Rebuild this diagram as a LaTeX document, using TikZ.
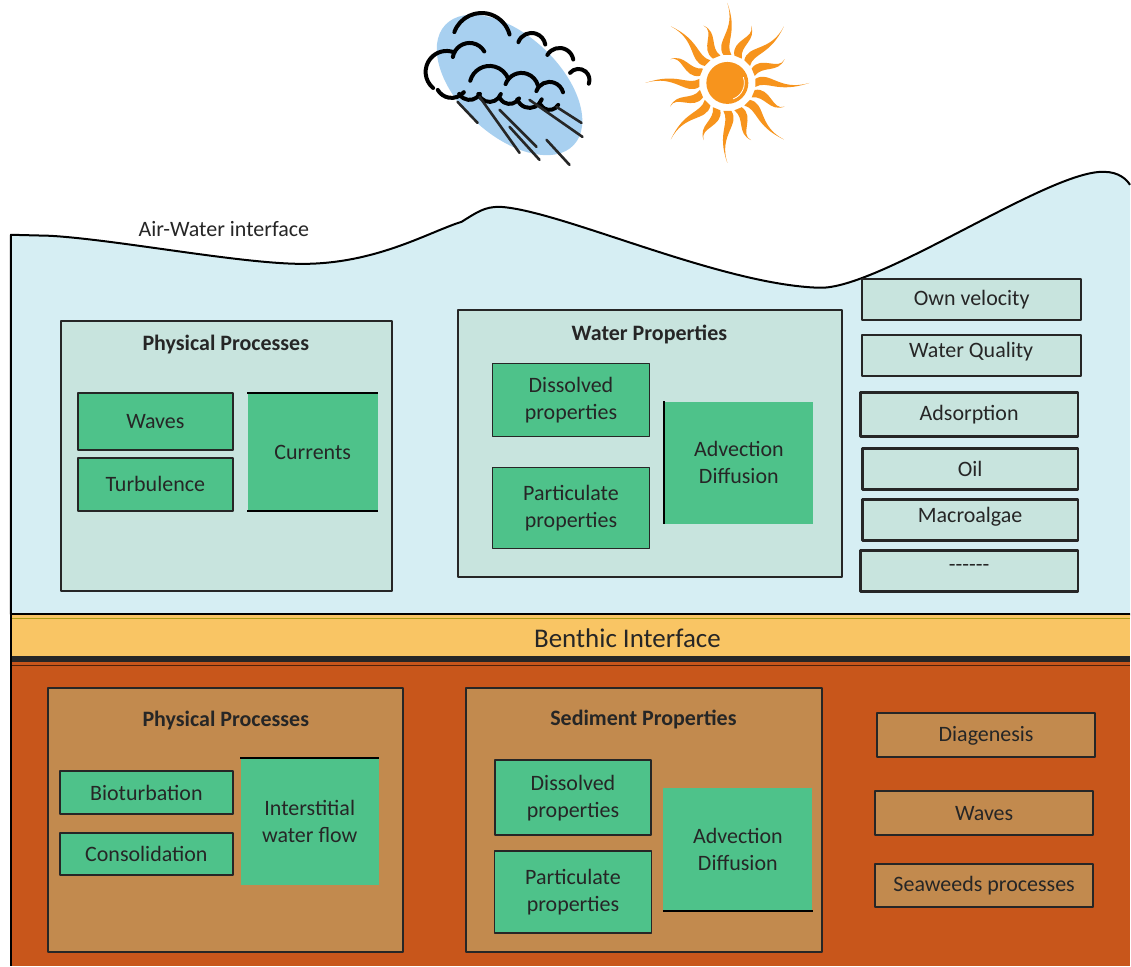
\documentclass[tikz,border=0pt]{standalone}
\usepackage{fontspec}
\setmainfont{Carlito}
\usetikzlibrary{fit}

\definecolor{seablue}{RGB}{214,238,243}
\definecolor{pale}{RGB}{200,228,222}
\definecolor{leaf}{RGB}{78,194,138}
\definecolor{sand}{RGB}{249,197,100}
\definecolor{mud}{RGB}{200,86,27}
\definecolor{clay}{RGB}{194,138,78}
\definecolor{rainblue}{RGB}{168,208,240}
\definecolor{sunorange}{RGB}{247,148,29}
\definecolor{ink}{RGB}{38,38,38}

\begin{document}
\begin{tikzpicture}[x=0.5pt,y=-0.5pt,line join=round,text=ink,
    font=\fontsize{11}{13.5}\selectfont]
  \tikzstyle{panel}=[draw=ink,line width=1pt,inner sep=0pt]
  \tikzstyle{cell}=[fill=leaf,draw=ink,line width=0.8pt,inner sep=0pt]
  \tikzstyle{bare}=[fill=leaf,inner sep=0pt]
  \tikzstyle{txt}=[label={[align=center]center:#1}]
  \tikzstyle{heading}=[font=\fontsize{11}{13.5}\selectfont\bfseries]
  \tikzstyle{rain}=[line width=1.3pt,line cap=round,ink]
  \tikzstyle{puff}=[line width=2pt,line cap=round,black]

  \fill[white] (0,0) rectangle (1131,967);

  % weather
  \fill[rainblue,rotate around={-43:(510,85)}] (510,85) ellipse (88 and 50);
  \foreach \cx/\cy/\rr/\aa/\bb in {482/42/29/200/345, 532/47/14/200/350,
      560/62/14/210/350, 579/80/11/220/380, 447/72/21/130/290,
      470/60/17/190/330, 490/86/20/195/340, 522/90/17/200/345,
      550/96/14/200/345, 452/82/16/40/150, 490/90/12/20/160, 530/95/13/20/160,
      470/88/12/30/150, 510/93/11/30/150, 550/100/10/30/150}
    \draw[puff] (\cx,\cy) ++(\aa:\rr) arc[start angle=\aa,end angle=\bb,radius=\rr];
  \foreach \xa/\ya/\xb/\yb in {458/102/478/123, 480/97/520/153, 500/110/537/147,
      510/127/540/160, 530/100/583/137, 547/140/570/165, 557/107/582/123}
    \draw[rain] (\xa,\ya) -- (\xb,\yb);
  \begin{scope}[shift={(728,83)}]
    \foreach \a/\len in {0/82,22.5/62,45/80,67.5/62,90/80,112.5/62,135/80,157.5/62,
        180/82,202.5/62,225/80,247.5/62,270/80,292.5/62,315/80,337.5/62}
      \fill[sunorange,rotate=\a] (28,-4) .. controls (42,-13) and (52,9) .. (\len,0)
        .. controls (50,11) and (40,-3) .. (28,4) -- cycle;
    \fill[sunorange] (0,0) circle (21);
    \draw[white,line width=0.4pt] (0,0) ++(-20:17) arc[start angle=-20,end angle=70,radius=17];
  \end{scope}

  % water column
  \draw[fill=seablue,line width=1pt] (1131,615) -- (11,615) -- (11,235) -- (50,236)
    .. controls (120,240) and (250,266) .. (310,264)
    .. controls (380,262) and (430,232) .. (462,222)
    .. controls (478,212) and (485,207) .. (500,207)
    .. controls (560,210) and (720,285) .. (820,288)
    .. controls (880,290) and (1050,170) .. (1105,172)
    .. controls (1120,172) and (1128,180) .. (1131,185);
  \node (air) at (224,229) {Air-Water interface};

  \node[panel,fill=pale,fit={(61,321) (392,592)}] (wphys) {};
  \node[heading] (wphyst) at (226,345) {Physical Processes};
  \node[cell,line width=1pt,fit={(78,393) (233,450)},txt=Waves] (wwaves) {};
  \node[cell,line width=1pt,fit={(78,458) (233,511)},txt=Turbulence] (turb) {};
  \node[bare,fit={(248,394) (378,511)},txt=Currents] (curr) {};
  \draw[line width=1pt] (curr.north west) -- (curr.north east)
    (curr.south west) -- (curr.south east);

  \node[panel,fill=pale,fit={(458,310) (843,578)}] (wprop) {};
  \node[heading] (wpropt) at (650,335) {Water Properties};
  \node[cell,fit={(493,364) (650,437)},txt={Dissolved\\properties}] (wdis) {};
  \node[cell,fit={(493,468) (650,549)},txt={Particulate\\properties}] (wpart) {};
  \node[bare,fit={(665,402) (814,524)},txt={Advection\\Diffusion}] (wadv) {};
  \draw[line width=1pt] (wadv.north west) -- (wadv.south west);

  \node[panel,fill=pale,fit={(863,279) (1082,320)},txt={Own velocity}] (own) {};
  \node[panel,fill=pale,fit={(863,335) (1082,376)}] (quality) {};
  \node (qualityt) at (972,352) {Water Quality};
  \node[panel,fill=pale,line width=1.3pt,fit={(861,393) (1079,437)},txt=Adsorption] (adsorp) {};
  \node[panel,fill=pale,line width=1.3pt,fit={(863,449) (1079,490)},txt=Oil] (oil) {};
  \node[panel,fill=pale,line width=1.3pt,fit={(863,500) (1079,541)}] (algae) {};
  \node (algaet) at (971,517) {Macroalgae};
  \node[panel,fill=pale,line width=1.3pt,fit={(861,551) (1079,592)}] (more) {};
  \node (moret) at (970,569) {-{}-{}-{}-{}-{}-};

  % benthic interface
  \fill[sand] (11,615) rectangle (1131,657);
  \draw[line width=0.6pt,olive!70!sand] (11,619) -- (1131,619);
  \draw[line width=1pt] (11,615) -- (1131,615);
  \fill[mud] (11,662) rectangle (1131,967);
  \fill[ink] (11,657) rectangle (1131,663);
  \draw[line width=0.5pt,black!60!mud] (11,666) -- (1131,666);
  \draw[line width=0.6pt] (11,615) -- (11,967);
  \node[font=\fontsize{13.5}{16}\selectfont] (benthic) at (628,639) {Benthic Interface};

  % sediment
  \node[panel,fill=clay,fit={(48,689) (403,953)}] (sphys) {};
  \node[heading] (sphyst) at (226,721) {Physical Processes};
  \node[cell,line width=1pt,fit={(60,772) (233,815)},txt=Bioturbation] (biot) {};
  \node[cell,line width=1pt,fit={(60,834) (233,876)},txt=Consolidation] (cons) {};
  \node[bare,fit={(241,759) (379,886)},txt={Interstitial\\water flow}] (inter) {};
  \draw[line width=1pt] (inter.north west) -- (inter.north east);

  \node[panel,fill=clay,fit={(466,689) (823,953)}] (sprop) {};
  \node[heading] (spropt) at (644,720) {Sediment Properties};
  \node[cell,line width=1pt,fit={(495,761) (652,836)},txt={Dissolved\\properties}] (sdis) {};
  \node[cell,fit={(495,852) (652,934)},txt={Particulate\\properties}] (spart) {};
  \node[bare,fit={(664,789) (813,911)},txt={Advection\\Diffusion}] (sadv) {};
  \draw[line width=1pt] (sadv.south west) -- (sadv.south east);

  \node[panel,fill=clay,fit={(878,714) (1096,758)},txt=Diagenesis] (diag) {};
  \node[panel,fill=clay,fit={(876,792) (1094,836)},txt=Waves] (swaves) {};
  \node[panel,fill=clay,fit={(876,865) (1094,908)},txt={Seaweeds processes}] (seaweed) {};
\end{tikzpicture}
\end{document}
